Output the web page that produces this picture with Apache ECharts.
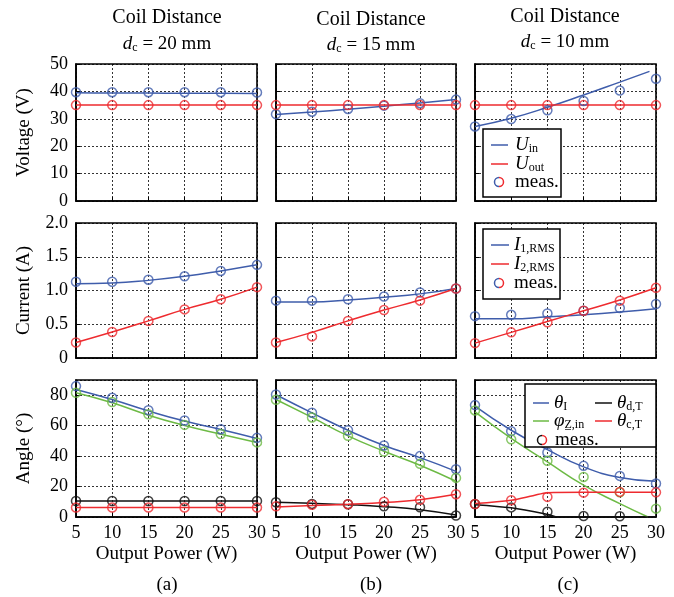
<!DOCTYPE html>
<html><head><meta charset="utf-8">
<script src="https://cdn.jsdelivr.net/npm/echarts/dist/echarts.min.js"></script>
<style>html,body{margin:0;padding:0;background:#fff}#c{width:674px;height:597px}</style>
</head><body><div id="c"></div><script>
const power = [5, 10, 15, 20, 25, 30];
const xTicks = [5, 10, 15, 20, 25, 30];

// ---- Voltage (V) ----
const uInFit_a = [39.5, 39.4, 39.4, 39.3, 39.3, 39.2];
const uInMeas_a = [39.7, 39.7, 39.7, 39.7, 39.7, 39.6];
const uOutFit_a = [35, 35, 35, 35, 35, 35];
const uOutMeas_a = [35, 35, 35, 35, 35, 35];
const uInFit_b = [31.6, 32.5, 33.5, 34.6, 35.8, 37.0];
const uInMeas_b = [31.7, 32.6, 33.6, 34.8, 35.7, 37.0];
const uOutFit_b = [35, 35, 35, 35, 35, 35];
const uOutMeas_b = [35, 35, 35, 35, 35, 35];
const uInFitX_c = [5, 10, 15, 20, 25, 29.1];
const uInFit_c = [27.2, 30.2, 34.2, 38.7, 43.4, 47.3];
const uInMeas_c = [27.2, 29.9, 33.1, 36.5, 40.3, 44.6];
const uOutFit_c = [35, 35, 35, 35, 35, 35];
const uOutMeas_c = [35, 35, 35, 35, 35, 35];

// ---- Current (A) ----
const i1Fit_a = [1.10, 1.11, 1.15, 1.21, 1.29, 1.38];
const i1Meas_a = [1.13, 1.13, 1.16, 1.21, 1.29, 1.38];
const i2Fit_a = [0.23, 0.385, 0.55, 0.72, 0.87, 1.05];
const i2Meas_a = [0.23, 0.385, 0.55, 0.72, 0.87, 1.05];
const i1Fit_b = [0.83, 0.83, 0.86, 0.90, 0.95, 1.03];
const i1Meas_b = [0.85, 0.85, 0.87, 0.91, 0.97, 1.03];
const i2Fit_b = [0.23, 0.38, 0.55, 0.71, 0.86, 1.03];
const i2Meas_b = [0.23, 0.32, 0.55, 0.71, 0.85, 1.03];
const i1Fit_c = [0.58, 0.58, 0.61, 0.64, 0.68, 0.73];
const i1Meas_c = [0.62, 0.64, 0.66, 0.70, 0.74, 0.80];
const i2Fit_c = [0.22, 0.38, 0.54, 0.70, 0.86, 1.04];
const i2Meas_c = [0.22, 0.38, 0.53, 0.70, 0.85, 1.04];

// ---- Angle (deg) ----
const thIFit_a = [83.8, 77.2, 69.7, 63.0, 57.5, 51.6];
const thIMeas_a = [86.0, 78.3, 70.2, 63.4, 57.7, 52.0];
const phiFit_a = [81.6, 75.0, 66.9, 60.1, 54.4, 49.0];
const phiMeas_a = [81.6, 75.5, 67.5, 60.5, 54.5, 49.0];
const thDFit_a = [10.5, 10.5, 10.5, 10.5, 10.5, 10.5];
const thDMeas_a = [10.5, 10.5, 10.5, 10.5, 10.5, 10.5];
const thCFit_a = [6.2, 6.2, 6.2, 6.2, 6.2, 6.2];
const thCMeas_a = [6.2, 6.2, 6.2, 6.2, 6.2, 6.2];

const thIFit_b = [80.3, 68.4, 57.0, 47.0, 39.0, 30.0];
const thIMeas_b = [80.5, 68.5, 57.0, 47.0, 40.0, 31.4];
const phiFit_b = [77.2, 65.4, 53.3, 43.2, 34.0, 23.5];
const phiMeas_b = [77.0, 65.4, 53.3, 43.0, 34.9, 25.7];
const thDFit_b = [9.7, 9.0, 8.1, 6.8, 4.8, 1.3];
const thDMeas_b = [9.7, 8.6, 8.4, 7.0, 6.4, 1.0];
const thCFit_b = [6.6, 7.5, 8.4, 9.5, 11.4, 14.9];
const thCMeas_b = [7.0, 8.0, 8.4, 10.0, 11.3, 15.0];

const thIFit_c = [72.8, 57.0, 44.3, 32.9, 25.9, 23.5];
const thIMeas_c = [73.5, 56.4, 42.4, 33.6, 27.0, 22.0];
const phiFitX_c = [5, 10, 15, 20, 25, 28.9];
const phiFit_c = [69.0, 51.6, 36.2, 20.9, 8.8, 0];
const phiMeas_c = [70.0, 51.0, 36.9, 26.3, 16.2, 5.5];
const thDFitX_c = [5, 10, 15, 16.5, 30];
const thDFit_c = [8.1, 6.0, 1.8, 0, 0];
const thDMeas_c = [8.5, 6.3, 3.5, 0.6, 0.5, null];
const thCFitX_c = [5, 10, 13, 15, 20, 25, 30];
const thCFit_c = [8.8, 11.0, 14.0, 16.0, 16.2, 16.2, 16.2];
const thCMeas_c = [8.5, 11.0, 13.2, 16.0, 16.5, 16.2];

const colTitles = ['20', '15', '10'];
const panelLabels = ['(a)', '(b)', '(c)'];
const yNames = ['Voltage (V)', 'Current (A)', 'Angle (°)'];

const BLUE = '#3f5dab', RED = '#ee2b2f', GREEN = '#6dba45', BLACK = '#111';
const F = '"Liberation Serif","Times New Roman",serif';

const gridLeft = [76, 276, 475], gridW = [181, 180, 181];
const gridTop = [64, 223, 380], gridH = [137, 135, 137];
const yCfg = [
  {min: 0, max: 50, interval: 10},
  {min: 0, max: 2, interval: 0.5},
  {min: 0, max: 90, interval: 20}
];

const grids = [], xAxes = [], yAxes = [], series = [];
for (let r = 0; r < 3; r++) for (let c = 0; c < 3; c++) {
  const gi = r * 3 + c;
  grids.push({left: gridLeft[c], top: gridTop[r], width: gridW[c], height: gridH[r],
    show: true, borderColor: '#000', borderWidth: 1.6, backgroundColor: 'transparent'});
  xAxes.push({type: 'value', gridIndex: gi, min: 5, max: 30, interval: 5,
    axisLine: {show: true, onZero: false, lineStyle: {color: '#000', width: 1.6}},
    axisTick: {show: true, inside: true, length: 4, lineStyle: {color: '#000'}},
    axisLabel: {show: r === 2, fontFamily: F, fontSize: 18, color: '#000', margin: 7},
    splitLine: {show: true, lineStyle: {type: [2, 2], color: '#000', width: 0.8}},
    name: r === 2 ? 'Output Power (W)' : '', nameLocation: 'middle', nameGap: 28,
    nameTextStyle: {fontFamily: F, fontSize: 19, color: '#000'}});
  yAxes.push(Object.assign({type: 'value', gridIndex: gi,
    axisLine: {show: true, onZero: false, lineStyle: {color: '#000', width: 1.6}},
    axisTick: {show: true, inside: true, length: 4, lineStyle: {color: '#000'}},
    axisLabel: {show: c === 0, fontFamily: F, fontSize: 18, color: '#000', margin: 8, showMaxLabel: r !== 2,
      formatter: v => r === 1 ? (v === 0 ? '0' : v.toFixed(1)) : String(v)},
    splitLine: {show: true, lineStyle: {type: [2, 2], color: '#000', width: 0.8}},
    name: c === 0 ? yNames[r] : '', nameLocation: 'middle', nameGap: 42,
    nameTextStyle: {fontFamily: F, fontSize: 19, color: '#000'}}, yCfg[r]));
}

function pairs(xs, ys) { return ys.map((v, i) => v == null ? null : [xs[i], v]).filter(p => p); }
function fit(gi, ys, color, xs, smooth) {
  series.push({type: 'line', xAxisIndex: gi, yAxisIndex: gi, data: pairs(xs || power, ys),
    smooth: smooth == null ? true : smooth, showSymbol: false, silent: true, z: 2,
    lineStyle: {color: color, width: 1.5}});
}
function meas(gi, ys, color) {
  series.push({type: 'scatter', xAxisIndex: gi, yAxisIndex: gi, data: pairs(power, ys),
    symbol: 'circle', symbolSize: 9, silent: true, z: 3,
    itemStyle: {color: 'rgba(0,0,0,0)', borderColor: color, borderWidth: 1.5}});
}
// voltage
fit(0, uInFit_a, BLUE); fit(0, uOutFit_a, RED); meas(0, uInMeas_a, BLUE); meas(0, uOutMeas_a, RED);
fit(1, uInFit_b, BLUE); fit(1, uOutFit_b, RED); meas(1, uInMeas_b, BLUE); meas(1, uOutMeas_b, RED);
fit(2, uInFit_c, BLUE, uInFitX_c); fit(2, uOutFit_c, RED); meas(2, uInMeas_c, BLUE); meas(2, uOutMeas_c, RED);
// current
fit(3, i1Fit_a, BLUE); fit(3, i2Fit_a, RED); meas(3, i1Meas_a, BLUE); meas(3, i2Meas_a, RED);
fit(4, i1Fit_b, BLUE); fit(4, i2Fit_b, RED); meas(4, i1Meas_b, BLUE); meas(4, i2Meas_b, RED);
fit(5, i1Fit_c, BLUE); fit(5, i2Fit_c, RED); meas(5, i1Meas_c, BLUE); meas(5, i2Meas_c, RED);
// angle
fit(6, thIFit_a, BLUE); fit(6, phiFit_a, GREEN); fit(6, thDFit_a, BLACK); fit(6, thCFit_a, RED);
meas(6, thIMeas_a, BLUE); meas(6, phiMeas_a, GREEN); meas(6, thDMeas_a, BLACK); meas(6, thCMeas_a, RED);
fit(7, thIFit_b, BLUE); fit(7, phiFit_b, GREEN); fit(7, thDFit_b, BLACK); fit(7, thCFit_b, RED);
meas(7, thIMeas_b, BLUE); meas(7, phiMeas_b, GREEN); meas(7, thDMeas_b, BLACK); meas(7, thCMeas_b, RED);
fit(8, thIFit_c, BLUE); fit(8, phiFit_c, GREEN, phiFitX_c); fit(8, thDFit_c, BLACK, thDFitX_c, 0.3); fit(8, thCFit_c, RED, thCFitX_c, 0.3);
meas(8, thIMeas_c, BLUE); meas(8, phiMeas_c, GREEN); meas(8, thDMeas_c, BLACK); meas(8, thCMeas_c, RED);

const rich = {
  i: {fontFamily: F, fontSize: 19, fontStyle: 'italic', color: '#000'},
  n: {fontFamily: F, fontSize: 19, color: '#000'},
  s: {fontFamily: F, fontSize: 12, color: '#000', verticalAlign: 'bottom', padding: [7, 0, 0, 0]}
};
const graphic = [];
function txt(x, y, text, align, size) {
  graphic.push({type: 'text', x: x, y: y, z: 100, style: {text: text, rich: rich, fontFamily: F,
    fontSize: size || 19, fill: '#000', align: align || 'center', verticalAlign: 'middle'}});
}
// column titles
const titleX = [167, 371, 565], titleY1 = [18, 20, 17], titleY2 = [44, 45, 42];
for (let c = 0; c < 3; c++) {
  txt(titleX[c], titleY1[c], 'Coil Distance', 'center', 20);
  txt(titleX[c], titleY2[c], '{i|d}{s|c}{n| = ' + colTitles[c] + ' mm}', 'center', 19);
  txt([167, 371, 568][c], 585, panelLabels[c], 'center', 19);
}
function box(x, y, w, h) {
  graphic.push({type: 'rect', z: 90, shape: {x: x, y: y, width: w, height: h},
    style: {fill: '#fff', stroke: '#000', lineWidth: 1.5}});
}
function legLine(x1, x2, y, color) {
  graphic.push({type: 'line', z: 95, shape: {x1: x1, y1: y, x2: x2, y2: y}, style: {stroke: color, lineWidth: 1.5}});
}
function legCircle(x, y, c1, c2) {
  graphic.push({type: 'arc', z: 95, shape: {cx: x, cy: y, r: 4.5, startAngle: Math.PI / 2, endAngle: Math.PI * 1.5, clockwise: true}, style: {stroke: c1, fill: null, lineWidth: 1.5}});
  graphic.push({type: 'arc', z: 95, shape: {cx: x, cy: y, r: 4.5, startAngle: -Math.PI / 2, endAngle: Math.PI / 2, clockwise: true}, style: {stroke: c2, fill: null, lineWidth: 1.5}});
}
// voltage legend
box(483, 129, 78, 68);
legLine(491, 508, 145, BLUE); txt(515, 145, '{i|U}{s|in}', 'left');
legLine(491, 508, 164, RED); txt(515, 164, '{i|U}{s|out}', 'left');
legCircle(499, 182, BLUE, RED); txt(515, 182, '{n|meas.}', 'left');
// current legend
box(483, 229, 77, 70);
legLine(491, 509, 245, BLUE); txt(514, 245, '{i|I}{s|1,RMS}', 'left');
legLine(491, 509, 264, RED); txt(514, 264, '{i|I}{s|2,RMS}', 'left');
legCircle(499, 283, BLUE, RED); txt(514, 283, '{n|meas.}', 'left');
// angle legend
box(525, 384, 131, 63);
legLine(533, 549, 403, BLUE); txt(554, 403, '{i|θ}{s|I}', 'left');
legLine(533, 549, 421, GREEN); txt(554, 421, '{i|φ}{s|Z̲,in}', 'left');
legLine(595, 612, 403, BLACK); txt(617, 403, '{i|θ}{s|d,T}', 'left');
legLine(595, 612, 421, RED); txt(617, 421, '{i|θ}{s|c,T}', 'left');
legCircle(542, 440, BLACK, RED); txt(555, 440, '{n|meas.}', 'left');

const chart = echarts.init(document.getElementById('c'), null, {renderer: 'canvas'});
chart.setOption({animation: false, backgroundColor: '#fff', grid: grids, xAxis: xAxes, yAxis: yAxes, series: series, graphic: graphic});
</script></body></html>
